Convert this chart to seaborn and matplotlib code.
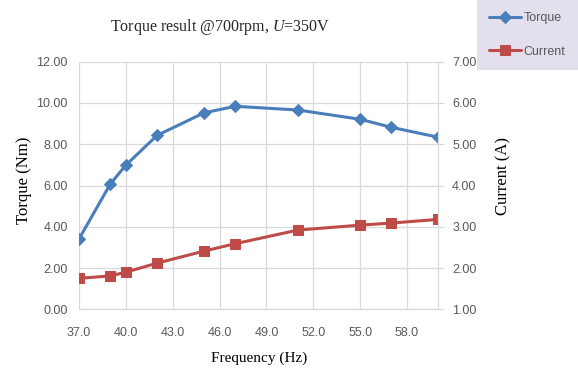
import matplotlib
matplotlib.use("Agg")
import matplotlib.pyplot as plt
import seaborn as sns
import pandas as pd

# Measured operating points
frequency = [37, 39, 40, 42, 45, 47, 51, 55, 57, 60]
torque = [3.41, 6.07, 6.99, 8.43, 9.52, 9.84, 9.66, 9.21, 8.82, 8.34]
current = [1.75, 1.81, 1.90, 2.12, 2.41, 2.59, 2.92, 3.04, 3.09, 3.18]

x_ticks = [37.0, 40.0, 43.0, 46.0, 49.0, 52.0, 55.0, 58.0]
torque_ticks = [0, 2, 4, 6, 8, 10, 12]
current_ticks = [1, 2, 3, 4, 5, 6, 7]

df = pd.DataFrame({"Frequency": frequency, "Torque": torque, "Current": current})

sns.set_style("white")
plt.rcParams["font.family"] = ["Liberation Sans", "DejaVu Sans"]
plt.rcParams["mathtext.fontset"] = "custom"
plt.rcParams["mathtext.rm"] = "Liberation Serif"
plt.rcParams["mathtext.it"] = "Liberation Serif:italic"

BLUE = "#4A7EBB"
RED = "#BE4B48"
GRID = "#D9D9D9"
TICK = "#595959"
SERIF = ["Liberation Serif", "DejaVu Serif"]

fig = plt.figure(figsize=(5.78, 3.72), dpi=100)
ax = fig.add_axes([0.1367, 0.1685, 0.6216, 0.6656])
ax2 = ax.twinx()

sns.lineplot(data=df, x="Frequency", y="Torque", ax=ax, color=BLUE, lw=2.2,
             marker="D", markersize=5.8, markeredgecolor=BLUE, label="Torque",
             legend=False)
sns.lineplot(data=df, x="Frequency", y="Current", ax=ax2, color=RED, lw=2.2,
             marker="s", markersize=7.5, markeredgecolor=RED, label="Current",
             legend=False)

ax.set_xlim(37, 60)
ax.set_ylim(0, 12)
ax2.set_ylim(1, 7)
ax.set_xticks(x_ticks)
ax.set_xticklabels([f"{v:.1f}" for v in x_ticks])
ax.set_yticks(torque_ticks)
ax.set_yticklabels([f"{v:.2f}" for v in torque_ticks])
ax2.set_yticks(current_ticks)
ax2.set_yticklabels([f"{v:.2f}" for v in current_ticks])

ax.grid(True, color=GRID, lw=0.9)
ax.set_axisbelow(True)
ax2.grid(False)

for a in (ax, ax2):
    for s in a.spines.values():
        s.set_visible(False)
ax2.spines["bottom"].set_visible(True)
ax2.spines["bottom"].set_color(GRID)
ax2.spines["bottom"].set_linewidth(0.9)
ax2.spines["right"].set_visible(True)
ax2.spines["right"].set_color(GRID)
ax2.spines["right"].set_linewidth(0.9)

ax.tick_params(axis="y", length=0, pad=8, labelsize=9, labelcolor=TICK)
ax.tick_params(axis="x", length=0, pad=13, labelsize=9, labelcolor=TICK)
ax2.tick_params(axis="y", length=4, width=0.9, color=GRID, pad=6, labelsize=9,
                labelcolor=TICK)

ax.set_xlabel("Frequency (Hz)", fontsize=11, family=SERIF, color="black")
ax.set_ylabel("Torque (Nm)", fontsize=12, family=SERIF, color="black")
ax2.set_ylabel("Current (A)", fontsize=12, family=SERIF, color="black")
ax.xaxis.set_label_coords(0.5, -0.17)
ax.yaxis.set_label_coords(-0.131, 0.52)
ax2.yaxis.set_label_coords(1.158, 0.54)

fig.text(0.381, 0.927, "Torque result @700rpm, $\\mathit{U}$=350V",
         ha="center", va="center", fontsize=11.5, family=SERIF)

h1, l1 = ax.get_legend_handles_labels()
h2, l2 = ax2.get_legend_handles_labels()
leg = fig.legend(h1 + h2, l1 + l2, loc="upper right", bbox_to_anchor=(1.0, 1.0),
                 frameon=True, fancybox=False, fontsize=9, labelcolor=TICK,
                 handlelength=2.5, handletextpad=0.25, labelspacing=1.7,
                 borderpad=1.0, borderaxespad=0)
leg.get_frame().set_facecolor("#E4DFEC")
leg.get_frame().set_edgecolor("none")
leg.get_frame().set_alpha(1)

fig.savefig("out.png", dpi=100, facecolor="white")
